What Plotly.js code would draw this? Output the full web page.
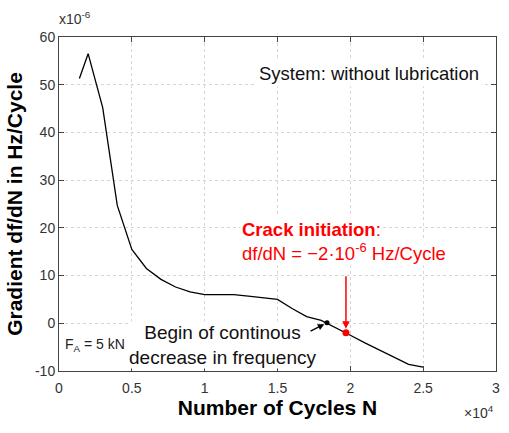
<!DOCTYPE html>
<html>
<head>
<meta charset="utf-8">
<script src="https://cdn.plot.ly/plotly-3.0.1.min.js"></script>
<style>html,body{margin:0;padding:0;background:#fff;}</style>
</head>
<body>
<div id="chart" style="width:509px;height:433px;"></div>
<script>
// Number of cycles (x 10^4)
const cyclesE4 = [0.14, 0.2, 0.3, 0.4, 0.5, 0.6, 0.7, 0.8, 0.9, 1.0, 1.1, 1.2, 1.3, 1.4, 1.5, 1.6, 1.7, 1.8, 1.9, 2.0, 2.1, 2.2, 2.3, 2.4, 2.5];
// Gradient df/dN (x 10^-6 Hz/Cycle)
const gradientE6 = [51.3, 56.5, 45.2, 24.7, 15.5, 11.5, 9.2, 7.6, 6.6, 6.0, 6.0, 6.0, 5.7, 5.4, 5.0, 3.1, 1.4, 0.6, -0.9, -2.5, -4.1, -5.6, -7.2, -8.6, -9.2];
// Begin of continuous decrease point
const beginX = [1.84];
const beginY = [0.1];
// Crack initiation point
const crackX = [1.97];
const crackY = [-2.0];
// Tick values / labels
const xTickVals = [0, 0.5, 1, 1.5, 2, 2.5, 3];
const xTickText = ['0', '0.5', '1', '1.5', '2', '2.5', '3'];
const yTickVals = [-10, 0, 10, 20, 30, 40, 50, 60];
const yTickText = ['-10', '0', '10', '20', '30', '40', '50', '60'];

const FONT = 'Liberation Sans, Arial, Helvetica, sans-serif';

const traces = [
  {x: cyclesE4, y: gradientE6, type: 'scatter', mode: 'lines',
   line: {color: '#000', width: 1.3}, hoverinfo: 'skip'},
  {x: beginX, y: beginY, type: 'scatter', mode: 'markers',
   marker: {color: '#000', size: 5}, hoverinfo: 'skip'},
  {x: crackX, y: crackY, type: 'scatter', mode: 'markers',
   marker: {color: '#ff0000', size: 7}, hoverinfo: 'skip'}
];

const layout = {
  width: 509, height: 433,
  margin: {l: 59, r: 13, t: 37, b: 62},
  paper_bgcolor: '#fff', plot_bgcolor: '#fff',
  showlegend: false,
  font: {family: FONT, color: '#262626', size: 14},
  xaxis: {
    range: [0, 3], tickvals: xTickVals, ticktext: xTickText,
    ticks: 'inside', ticklen: 5, tickcolor: '#444', mirror: 'ticks',
    showline: true, linecolor: '#444', linewidth: 1,
    showgrid: true, gridcolor: '#d6d6d6', griddash: 'dot', gridwidth: 1,
    zeroline: false, tickfont: {size: 14, color: '#333'}, ticklabelstandoff: 4,
    title: {text: '<b>Number of Cycles N</b>', font: {size: 21, color: '#000'}, standoff: 5}
  },
  yaxis: {
    range: [-10, 60], tickvals: yTickVals, ticktext: yTickText,
    ticks: 'inside', ticklen: 5, tickcolor: '#444', mirror: 'ticks',
    showline: true, linecolor: '#444', linewidth: 1,
    showgrid: true, gridcolor: '#d6d6d6', griddash: 'dot', gridwidth: 1,
    zeroline: false, tickfont: {size: 14, color: '#333'},
    title: {text: '<b>Gradient df/dN in Hz/Cycle</b>', font: {size: 21, color: '#000'}, standoff: 6}
  },
  annotations: [
    {xref: 'paper', yref: 'paper', x: 0, y: 1, xanchor: 'left', yanchor: 'bottom', yshift: 8, xshift: -2,
     text: 'x10<sup>-6</sup>', showarrow: false, font: {size: 14, color: '#333'}},
    {xref: 'paper', yref: 'paper', x: 1, y: 0, xanchor: 'right', yanchor: 'top', yshift: -30,
     text: '×10<sup>4</sup>', showarrow: false, font: {size: 14, color: '#333'}},
    {x: 2.13, y: 52.4, xref: 'x', yref: 'y', text: 'System: without lubrication', showarrow: false,
     font: {size: 18.5, color: '#111'}, bgcolor: '#fff', borderpad: 2},
    {x: 1.24, y: 19.6, xref: 'x', yref: 'y', xanchor: 'left', yanchor: 'middle',
     text: '<b>Crack initiation</b>:', showarrow: false,
     font: {size: 18.5, color: '#ff0000'}, bgcolor: '#fff', borderpad: 1},
    {x: 1.24, y: 14.9, xref: 'x', yref: 'y', xanchor: 'left', yanchor: 'middle',
     text: 'df/dN = −2·10<sup>-6</sup> Hz/Cycle', showarrow: false,
     font: {size: 18.5, color: '#ff0000'}, bgcolor: '#fff', borderpad: 1},
    {x: crackX[0], y: crackY[0], xref: 'x', yref: 'y', text: '', showarrow: true,
     ax: 0, ay: -58, arrowcolor: '#ff0000', arrowwidth: 1.5, arrowhead: 2, arrowsize: 1, standoff: 4},
    {x: 1.125, y: -4.5, xref: 'x', yref: 'y', text: 'Begin of continous<br>decrease in frequency',
     showarrow: false, font: {size: 19, color: '#111'}, bgcolor: '#fff', borderpad: 0, align: 'center'},
    {x: beginX[0], y: beginY[0], xref: 'x', yref: 'y', text: '', showarrow: true,
     ax: -18, ay: 9, arrowcolor: '#000', arrowwidth: 1.3, arrowhead: 2, arrowsize: 1, standoff: 3},
    {x: 0.245, y: -4.6, xref: 'x', yref: 'y', text: 'F<sub>A</sub> = 5 kN', showarrow: false,
     font: {size: 14, color: '#222'}, bgcolor: '#fff', borderpad: 1}
  ]
};

Plotly.newPlot('chart', traces, layout, {staticPlot: true, displayModeBar: false});
</script>
</body>
</html>
